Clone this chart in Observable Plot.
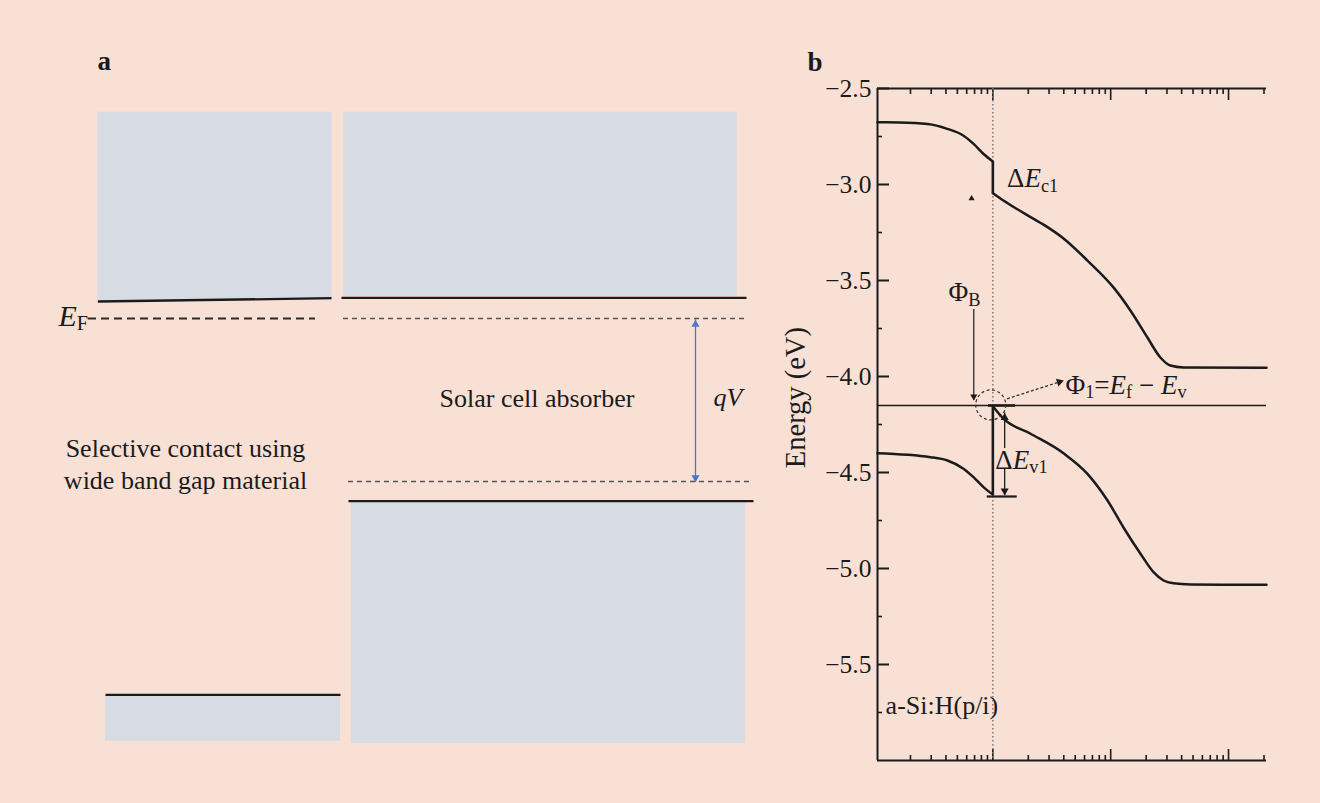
<!DOCTYPE html>
<html>
<head>
<meta charset="utf-8">
<title>Band diagrams of a selective contact and an a-Si:H/c-Si heterojunction</title>
<script src="https://cdn.jsdelivr.net/npm/d3@7"></script>
<script src="https://cdn.jsdelivr.net/npm/@observablehq/plot@0.6"></script>
<style>
  html, body { margin: 0; padding: 0; background: #f9e0d5; }
  #figure {
    position: relative; width: 1320px; height: 803px; overflow: hidden;
    background: #f9e0d5;
    font-family: "Liberation Serif", "DejaVu Serif", serif;
  }
  #figure svg { position: absolute; top: 0; overflow: visible; }
</style>
</head>
<body>
<div id="figure"></div>
<script>
// ---------- Panel a: schematic bands (x: lateral position, a.u.; y: energy vs. E_F, eV) ----------
const bandBlocks = [
  {part: "contact conduction band",  x1: 9.73,  x2: 33.17, y1: 0.18,  y2: 2.063},
  {part: "absorber conduction band", x1: 34.33, x2: 73.67, y1: 0.22,  y2: 2.063},
  {part: "absorber valence band",    x1: 35.07, x2: 74.5,  y1: -4.25, y2: -1.84},
  {part: "contact valence band",     x1: 10.5,  x2: 34.0,  y1: -4.227, y2: -3.77}
];
const bandEdges = [
  {edge: "contact Ec",  x1: 9.73, y1: 0.17,   x2: 33.1, y2: 0.203},
  {edge: "absorber Ec", x1: 34.1, y1: 0.207,  x2: 74.6, y2: 0.207},
  {edge: "absorber Ev", x1: 34.8, y1: -1.827, x2: 75.3, y2: -1.827},
  {edge: "contact Ev",  x1: 10.5, y1: -3.763, x2: 34.0, y2: -3.763}
];
const contactFermi = [{level: "E_F", x1: 8.8, x2: 31.5, y: 0}];
const quasiFermi = [
  {level: "E_Fn", x1: 34.3, x2: 74.8, y: 0},
  {level: "E_Fp", x1: 34.8, x2: 75.3, y: -1.63}
];
const qVArrow = [{x: 69.5, top: -0.013, bottom: -1.637}];
const labelsA = [
  {text: "Solar cell absorber", x: 43.9, y: -0.887}
];
const contactNote = [{text: "Selective contact using\nwide band gap material", x: 18.5, y: -1.70}];

// ---------- Panel b: simulated band edges across the a-Si:H(p/i) / c-Si interface ----------
// [position (log axis), energy (eV)]; each band is split at the interface
const interfaceX = 10;
const ecFront = [[1.05,-2.676],[1.6,-2.677],[2.8,-2.685],[4.1,-2.71],[5.6,-2.745],[6.9,-2.79],[8.3,-2.84],[10,-2.88]];
const ecBulk  = [[10,-3.045],[12.3,-3.083],[20.9,-3.17],[29.1,-3.222],[39.8,-3.281],[63.5,-3.396],[105.6,-3.536],[147,-3.656],[205,-3.797],[264,-3.901],[321,-3.943],[415,-3.953],[2100,-3.955]];
const evFront = [[1.05,-4.40],[2.96,-4.42],[4.12,-4.4375],[5.63,-4.48],[6.85,-4.524],[8.33,-4.576],[10,-4.615]];
const evBulk  = [[10,-4.155],[12.3,-4.22],[20.9,-4.298],[39.8,-4.40],[63.5,-4.507],[94,-4.646],[128,-4.785],[179,-4.923],[231,-5.019],[281,-5.0625],[341,-5.077],[476,-5.083],[2100,-5.085]];
const fermiEnergy = -4.151;

const energyTicks = [-2.5, -3.0, -3.5, -4.0, -4.5, -5.0, -5.5];
const energyMinorTicks = [-2.75, -3.25, -3.75, -4.25, -4.75, -5.25, -5.75];
const decadeTicks = [10, 100, 1000];
const subDecadeTicks = [2,3,4,5,6,7,8,9, 20,30,40,50,60,70,80,90, 200,300,400,500,600,700,800,900, 2000];

const annotationsB = [
  {text: "Δ*E*_{c1}", x: 13.2, y: -3.014},
  {text: "Φ_{B}", x: 4.2, y: -3.608},
  {text: "Φ_{1}=*E*_{f} − *E*_{v}", x: 41.3, y: -4.09},
  {text: "Δ*E*_{v1}", x: 10.5, y: -4.481}
];
const layerLabel = [{text: "a-Si:H(p/i)", x: 1.23, y: -5.757}];

const ink = "#1b1b1b";
const serif = "'Liberation Serif', 'DejaVu Serif', serif";
// tick-only axis (no tick labels)
const bare = {fill: "none", label: null};

const plotA = Plot.plot({
  width: 800, height: 803, margin: 0,
  x: {domain: [0, 80], axis: null},
  y: {domain: [-4.85, 3.18], axis: null},
  style: {background: "transparent", fontFamily: serif, color: ink, overflow: "visible"},
  marks: [
    Plot.rect(bandBlocks, {x1: "x1", x2: "x2", y1: "y1", y2: "y2", fill: "#d6dbe4"}),
    Plot.link(bandEdges, {x1: "x1", y1: "y1", x2: "x2", y2: "y2", stroke: ink, strokeWidth: 2.3}),
    Plot.ruleY(contactFermi, {y: "y", x1: "x1", x2: "x2", stroke: "#2a2a2a", strokeWidth: 2, strokeDasharray: "8,5"}),
    Plot.ruleY(quasiFermi, {y: "y", x1: "x1", x2: "x2", stroke: "#555", strokeWidth: 1.4, strokeDasharray: "5,4"}),
    // qV double arrow between the quasi-Fermi levels
    Plot.ruleX(qVArrow, {x: "x", y1: "top", y2: "bottom", stroke: "#4a78c8", strokeWidth: 1.3}),
    Plot.dot(qVArrow, {x: "x", y: "top", symbol: "triangle", r: 3, fill: "#4a78c8", stroke: "none", dy: 4.6}),
    Plot.dot(qVArrow, {x: "x", y: "bottom", symbol: "triangle", r: 3, fill: "#4a78c8", stroke: "none", rotate: 180, dy: -4.6}),
    Plot.text(["a"], {x: 9.7, y: 2.487, textAnchor: "start", lineAnchor: "bottom", fontSize: 27, fontWeight: "bold", fill: ink}),
    Plot.text(["*E*_{F}"], {x: 5.8, y: -0.07, textAnchor: "start", lineAnchor: "bottom", fontSize: 30, fill: ink}),
    Plot.text(labelsA, {x: "x", y: "y", text: "text", textAnchor: "start", lineAnchor: "bottom", fontSize: 26, fill: ink}),
    Plot.text(["*qV*"], {x: 71.3, y: -0.87, textAnchor: "start", lineAnchor: "bottom", fontSize: 26, fill: ink}),
    Plot.text(contactNote, {x: "x", y: "y", text: "text", textAnchor: "middle", lineAnchor: "bottom", lineHeight: 1.2, fontSize: 26, fill: ink})
  ]
});

const tickFmt = d3.format(".1f");
const plotB = Plot.plot({
  width: 550, height: 803,
  marginLeft: 107, marginRight: 54, marginTop: 88, marginBottom: 43,
  x: {type: "log", domain: [1.05, 2100], axis: null},
  y: {domain: [-6.0, -2.5], axis: null},
  style: {background: "transparent", fontFamily: serif, color: ink, overflow: "visible"},
  marks: [
    // axes with inward ticks
    Plot.axisY(energyTicks, {anchor: "left", tickSize: -12, tickPadding: 18, tickFormat: tickFmt, fontSize: 25.5, fontFamily: serif, fill: ink, label: null, strokeWidth: 2}),
    Plot.axisY(energyMinorTicks, {anchor: "left", tickSize: -5, strokeWidth: 1.6, ...bare}),
    Plot.axisX(decadeTicks, {anchor: "bottom", tickSize: -11, strokeWidth: 1.6, ...bare}),
    Plot.axisX(subDecadeTicks, {anchor: "bottom", tickSize: -5, strokeWidth: 1.6, ...bare}),
    Plot.axisX(decadeTicks, {anchor: "top", tickSize: -11, strokeWidth: 1.6, ...bare}),
    Plot.axisX(subDecadeTicks, {anchor: "top", tickSize: -5, strokeWidth: 1.6, ...bare}),
    Plot.ruleX([1.05], {stroke: ink, strokeWidth: 2}),
    Plot.ruleY([-2.5, -6.0], {stroke: ink, strokeWidth: 2}),
    Plot.text(["Energy (eV)"], {frameAnchor: "left", y: -4.11, dx: -82, rotate: -90, textAnchor: "middle", lineAnchor: "middle", fontSize: 28.5, fill: ink}),
    Plot.text(["b"], {frameAnchor: "top-left", dx: -70, dy: -18, textAnchor: "start", lineAnchor: "bottom", fontSize: 27, fontWeight: "bold", fill: ink}),

    // interface and Fermi level
    Plot.ruleX([interfaceX], {stroke: "#777", strokeWidth: 1.5, strokeDasharray: "1.5,2.5"}),
    Plot.ruleY([fermiEnergy], {stroke: ink, strokeWidth: 1.4}),
    Plot.ruleY([fermiEnergy], {x1: 9.19, x2: 15.6, stroke: ink, strokeWidth: 2.6}),

    // band edges
    Plot.line(ecFront, {x: d => d[0], y: d => d[1], curve: "monotone-x", stroke: ink, strokeWidth: 2.5}),
    Plot.line(ecBulk, {x: d => d[0], y: d => d[1], curve: "monotone-x", stroke: ink, strokeWidth: 2.5}),
    Plot.line(evFront, {x: d => d[0], y: d => d[1], curve: "monotone-x", stroke: ink, strokeWidth: 2.5}),
    Plot.line(evBulk, {x: d => d[0], y: d => d[1], curve: "monotone-x", stroke: ink, strokeWidth: 2.5}),
    // band offsets at the interface
    Plot.link([
      {x: interfaceX, y1: ecFront[ecFront.length - 1][1], y2: ecBulk[0][1]},
      {x: interfaceX, y1: evFront[evFront.length - 1][1], y2: evBulk[0][1]}
    ], {x1: "x", x2: "x", y1: "y1", y2: "y2", stroke: ink, strokeWidth: 2.6}),

    // ΔEv1 bracket
    Plot.ruleY([evFront[evFront.length - 1][1] - 0.01], {x1: 8.96, x2: 16.1, stroke: ink, strokeWidth: 2.2}),
    Plot.ruleX([{x: 12.6, y1: -4.375, y2: -4.19}, {x: 12.6, y1: -4.479, y2: -4.62}], {x: "x", y1: "y1", y2: "y2", stroke: ink, strokeWidth: 1.3}),
    Plot.dot([{x: 12.6, y: -4.19}], {x: "x", y: "y", symbol: "triangle", r: 3, fill: ink, stroke: "none", dy: 4.6}),
    Plot.dot([{x: 12.6, y: -4.62}], {x: "x", y: "y", symbol: "triangle", r: 3, fill: ink, stroke: "none", rotate: 180, dy: -4.6}),

    // ΦB arrow
    Plot.ruleX([{x: 6.89, y1: -3.651, y2: -4.125}], {x: "x", y1: "y1", y2: "y2", stroke: ink, strokeWidth: 1.2}),
    Plot.dot([{x: 6.89, y: -4.125}], {x: "x", y: "y", symbol: "triangle", r: 2.6, fill: ink, stroke: "none", rotate: 180, dy: -4}),

    // Φ1 circle and dashed pointer
    Plot.dot([{x: 9.6, y: -4.148}], {x: "x", y: "y", r: 15, fill: "none", stroke: "#333", strokeWidth: 1.2, strokeDasharray: "3,2.5"}),
    Plot.link([{x1: 13.2, y1: -4.116, x2: 40, y2: -4.021}], {x1: "x1", y1: "y1", x2: "x2", y2: "y2", stroke: "#333", strokeWidth: 1.3, strokeDasharray: "3,2"}),
    Plot.dot([{x: 40, y: -4.021}], {x: "x", y: "y", symbol: "triangle", r: 3, fill: ink, stroke: "none", rotate: 72, dx: -4.4, dy: 1.4}),

    // small marker under ΔEc1
    Plot.dot([{x: 6.6, y: -3.073}], {x: "x", y: "y", symbol: "triangle", r: 2.3, fill: ink, stroke: "none"}),

    Plot.text(annotationsB, {x: "x", y: "y", text: "text", textAnchor: "start", lineAnchor: "bottom", fontSize: 27, fill: ink}),
    Plot.text(layerLabel, {x: "x", y: "y", text: "text", textAnchor: "start", lineAnchor: "bottom", fontSize: 26, fill: ink})
  ]
});

const figure = document.getElementById("figure");
plotA.style.left = "0px";
plotB.style.left = "770px";
figure.append(plotA, plotB);

// Turn *italic* and _{subscript} markup into tspans
function applyRichText(svg) {
  svg.querySelectorAll("text").forEach(el => {
    if (el.querySelector("tspan")) return;
    const src = el.textContent;
    if (!/\*|_\{/.test(src)) return;
    const base = parseFloat(getComputedStyle(el).fontSize) || 26;
    const parts = src.split(/(\*[^*]+\*|_\{[^}]+\})/).filter(s => s);
    el.textContent = "";
    const shift = base * 0.16;
    let lowered = false;
    for (const p of parts) {
      const t = document.createElementNS("http://www.w3.org/2000/svg", "tspan");
      let str = p;
      if (p.startsWith("_{")) {
        str = p.slice(2, -1);
        t.setAttribute("font-size", (base * 0.68).toFixed(2));
        if (!lowered) t.setAttribute("dy", shift.toFixed(2));
        lowered = true;
      } else {
        if (lowered) { t.setAttribute("dy", (-shift).toFixed(2)); lowered = false; }
        if (p.startsWith("*")) { str = p.slice(1, -1); t.setAttribute("font-style", "italic"); }
      }
      t.textContent = str;
      el.appendChild(t);
    }
  });
}
applyRichText(plotA);
applyRichText(plotB);
</script>
</body>
</html>
